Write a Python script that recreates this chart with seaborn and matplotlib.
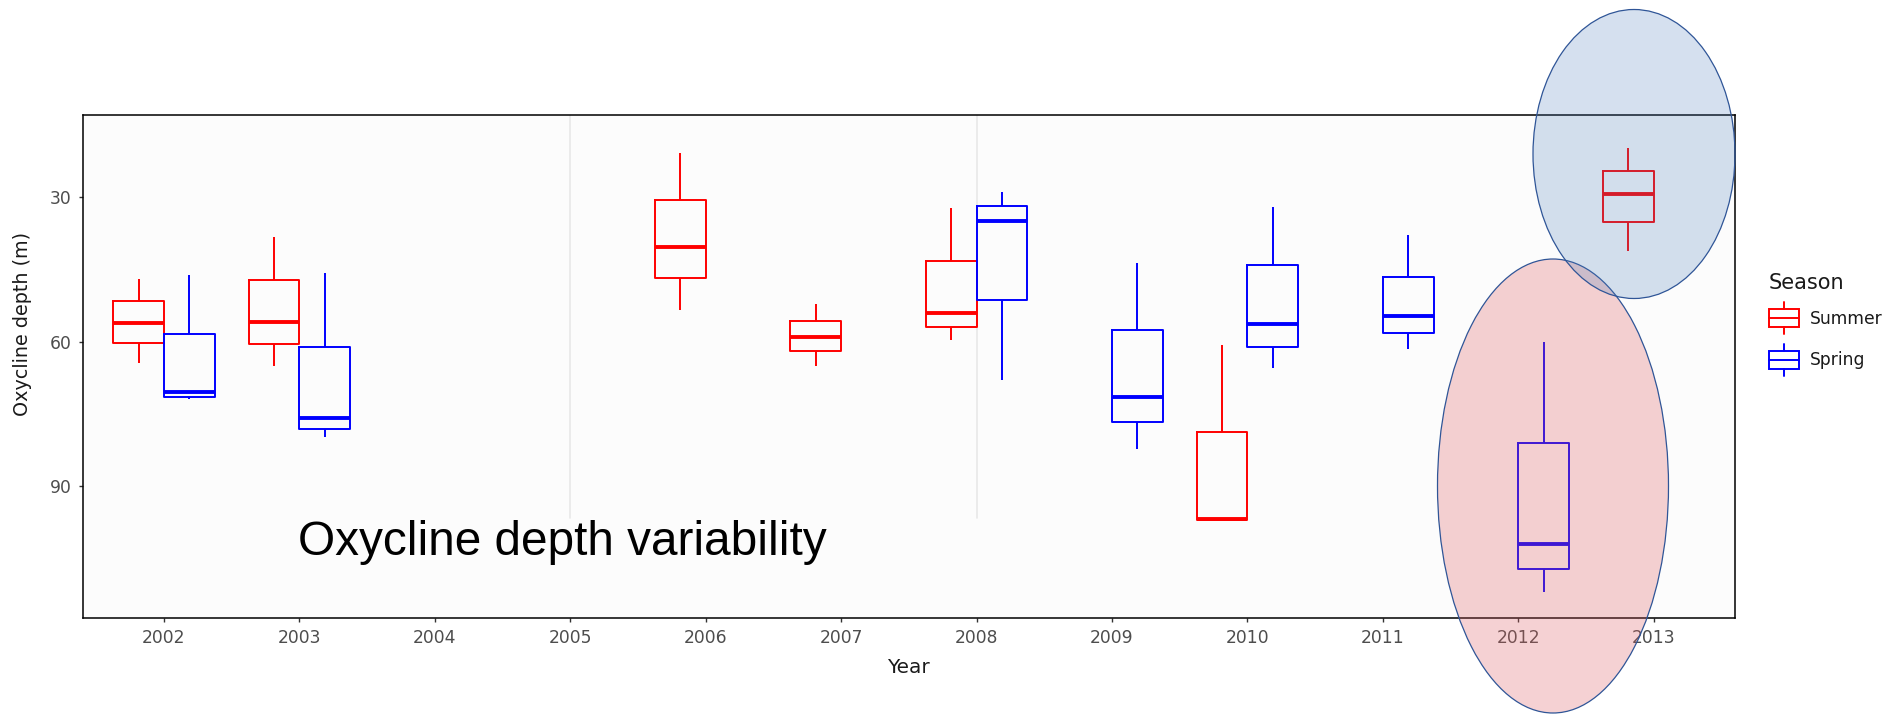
import numpy as np
import pandas as pd
import matplotlib
matplotlib.use("Agg")
import matplotlib.pyplot as plt
import seaborn as sns
from matplotlib.patches import Ellipse, Rectangle
from matplotlib.lines import Line2D
from matplotlib.legend_handler import HandlerBase

# ---------------- data ----------------
year_order = ['2002', '2003', '2004', '2005', '2006', '2007', '2008',
              '2009', '2010', '2011', '2012', '2013']
season_order = ['Summer', 'Spring']

years = ['2002', '2002', '2003', '2003', '2006', '2007', '2008', '2008',
         '2009', '2010', '2010', '2011', '2012', '2013']
seasons = ['Summer', 'Spring', 'Summer', 'Spring', 'Summer', 'Summer', 'Summer', 'Spring',
           'Spring', 'Summer', 'Spring', 'Spring', 'Spring', 'Summer']
depth_min = [47.0, 46.3, 38.3, 45.9, 21.0, 52.3, 32.4, 29.0, 43.8, 60.7, 32.1, 37.9, 60.0, 20.0]
depth_q1 = [51.6, 58.5, 47.2, 61.1, 30.7, 55.7, 43.3, 31.9, 57.7, 78.7, 44.1, 46.6, 81.1, 24.7]
depth_med = [56.1, 70.5, 55.9, 75.9, 40.5, 59.1, 54.0, 35.0, 71.4, 96.7, 56.4, 54.8, 101.9, 29.4]
depth_q3 = [60.4, 71.4, 60.6, 78.1, 46.9, 61.9, 57.0, 51.4, 76.7, 97.0, 61.1, 58.3, 107.1, 35.2]
depth_max = [64.5, 71.9, 65.0, 79.8, 53.5, 65.0, 59.7, 67.9, 82.2, 97.0, 65.5, 61.6, 111.9, 41.2]

palette = {'Summer': '#FF0000', 'Spring': '#0000FF'}

rows = []
for i in range(len(years)):
    for v in (depth_min[i], depth_q1[i], depth_med[i], depth_q3[i], depth_max[i]):
        rows.append({'Year': years[i], 'Season': seasons[i], 'Depth': v})
df = pd.DataFrame(rows)

# ---------------- style ----------------
sns.set_theme(style='white')
plt.rcParams['font.family'] = ['DejaVu Sans']

W, H = 1900, 719
fig = plt.figure(figsize=(W / 100, H / 100), dpi=100)
fig.patch.set_facecolor('white')

ax_l, ax_r, ax_t, ax_b = 82.7, 1735.0, 115.0, 618.3
ax = fig.add_axes([ax_l / W, 1 - ax_b / H, (ax_r - ax_l) / W, (ax_b - ax_t) / H])
ax.set_facecolor('#FCFCFC')

# faint vertical artefact lines seen in the reference
for pos in (3, 6):
    ax.axvline(pos, ymin=0.2, ymax=1, color='#E8E8E8', lw=1.2, zorder=0)

sns.boxplot(data=df, x='Year', y='Depth', hue='Season',
            order=year_order, hue_order=season_order, palette=palette,
            fill=False, width=0.75, gap=0, whis=(0, 100), showcaps=False,
            linewidth=1.4, medianprops={'linewidth': 2.8},
            legend=False, ax=ax)

ax.set_xlim(-0.6, 11.6)
ax.set_ylim(117.3, 13.1)
ax.set_yticks([30, 60, 90])

for s in ax.spines.values():
    s.set_visible(True)
    s.set_color('black')
    s.set_linewidth(1.1)

ax.tick_params(axis='both', which='major', length=3, width=1, color='#333333',
               labelsize=12.3, labelcolor='#4D4D4D', pad=5, left=True, bottom=True)

ax.set_xlabel('Year', fontsize=14.4, color='#1A1A1A')
ax.set_ylabel('Oxycline depth (m)', fontsize=13.8, color='#1A1A1A')
ax.xaxis.label.set_verticalalignment('center')
ax.yaxis.label.set_verticalalignment('center')
ax.xaxis.set_label_coords(0.5, (ax_b - 667.5) / (ax_b - ax_t))
ax.yaxis.set_label_coords((23 - ax_l) / (ax_r - ax_l), (ax_b - 324) / (ax_b - ax_t))


# ---------------- legend with boxplot-like keys ----------------
class BoxKeyHandler(HandlerBase):
    def create_artists(self, legend, orig_handle, xdescent, ydescent,
                       width, height, fontsize, trans):
        c = orig_handle.get_edgecolor()
        x0, y0 = -xdescent, -ydescent
        lo, hi = y0 + 0.22 * height, y0 + 0.78 * height
        rect = Rectangle((x0, lo), width, hi - lo, facecolor='none',
                         edgecolor=c, lw=1.4, transform=trans)
        med = Line2D([x0, x0 + width], [y0 + 0.5 * height] * 2, color=c, lw=1.4, transform=trans)
        w1 = Line2D([x0 + width / 2] * 2, [y0, lo], color=c, lw=1.4, transform=trans)
        w2 = Line2D([x0 + width / 2] * 2, [hi, y0 + height], color=c, lw=1.4, transform=trans)
        return [rect, med, w1, w2]


handles = [Rectangle((0, 0), 1, 1, facecolor='none', edgecolor=palette[s]) for s in season_order]
leg = fig.legend(handles, season_order, handler_map={Rectangle: BoxKeyHandler()},
                 title='Season', loc='upper left',
                 bbox_to_anchor=(1769 / W, 1 - 273 / H), frameon=False,
                 fontsize=12.3, title_fontsize=15, handlelength=1.75, handleheight=2.5,
                 handletextpad=0.65, labelspacing=0.55, borderpad=0, borderaxespad=0,
                 alignment='left')
for t in leg.get_texts():
    t.set_color('#1A1A1A')
leg.get_title().set_color('#1A1A1A')

# ---------------- annotation overlay (pixel coordinates) ----------------
ov = fig.add_axes([0, 0, 1, 1], zorder=5)
ov.set_xlim(0, W)
ov.set_ylim(H, 0)
ov.axis('off')
ov.patch.set_alpha(0)

ov.add_patch(Ellipse((1553, 486), 231, 454, facecolor=(0.87, 0.36, 0.38, 0.28),
                     edgecolor='#2F5597', lw=0.9))
ov.add_patch(Ellipse((1634, 154), 202, 289, facecolor=(0.29, 0.49, 0.73, 0.23),
                     edgecolor='#2F5597', lw=0.9))
ov.text(298, 555, 'Oxycline depth variability', fontsize=34.4,
        family=['Liberation Sans', 'DejaVu Sans'], ha='left', va='baseline', color='black')

fig.savefig('out.png', dpi=100)
